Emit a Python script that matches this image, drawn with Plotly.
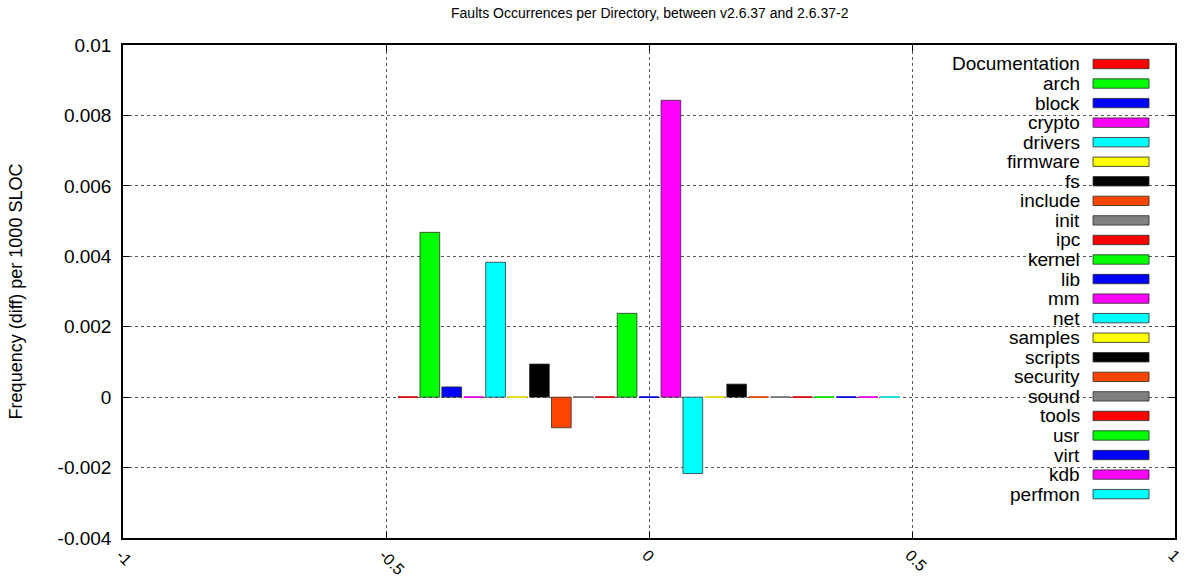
import plotly.graph_objects as go

# ---- data ----
directories = ["Documentation", "arch", "block", "crypto", "drivers", "firmware", "fs",
               "include", "init", "ipc", "kernel", "lib", "mm", "net", "samples",
               "scripts", "security", "sound", "tools", "usr", "virt", "kdb", "perfmon"]
values = [0.0, 0.00468, 0.00029, 0.0, 0.00383, 0.0, 0.00094,
          -0.00087, 0.0, 0.0, 0.00238, 0.0, 0.00843, -0.00217, 0.0,
          0.00037, 0.0, 0.0, 0.0, 0.0, 0.0, 0.0, 0.0]
y_tick_vals = [-0.004, -0.002, 0, 0.002, 0.004, 0.006, 0.008, 0.01]
y_tick_text = ["-0.004", "-0.002", "0", "0.002", "0.004", "0.006", "0.008", "0.01"]
x_tick_vals = [-1, -0.5, 0, 0.5, 1]
x_tick_text = ["-1", "-0.5", "0", "0.5", "1"]

palette = ["#ff0000", "#00ff00", "#0000ff", "#ff00ff", "#00ffff",
           "#ffff00", "#000000", "#ff4500", "#808080"]

FONT = "Liberation Sans, Arial, sans-serif"
N = len(directories)
slot = 1.0 / (N + 1)
bar_w = 0.9 * slot

fig = go.Figure()
for j, (name, v) in enumerate(zip(directories, values)):
    color = palette[j % len(palette)]
    center = -0.5 + (j + 1) * slot
    fig.add_trace(go.Bar(
        x=[center], y=[v], width=[bar_w], name=name,
        marker=dict(color=color, line=dict(color="rgba(40,40,40,0.75)", width=1)),
        showlegend=False,
    ))
    if v == 0:
        fig.add_trace(go.Scatter(
            x=[center - bar_w / 2, center + bar_w / 2], y=[v, v],
            mode="lines", line=dict(color=color, width=1.5),
            showlegend=False, hoverinfo="skip",
        ))

# custom legend (text right, swatch on the right like gnuplot)
shapes = []
annotations = []
leg_top = 0.9615
leg_step = 0.03966
for j, name in enumerate(directories):
    color = palette[j % len(palette)]
    yc = leg_top - j * leg_step
    annotations.append(dict(
        x=0.9116, y=yc, xref="paper", yref="paper", text=name,
        showarrow=False, xanchor="right", yanchor="middle",
        font=dict(family=FONT, size=19, color="black"),
    ))
    shapes.append(dict(
        type="rect", xref="paper", yref="paper",
        x0=0.9221, x1=0.9753, y0=yc - 0.0095, y1=yc + 0.0095,
        fillcolor=color, line=dict(color="rgba(40,40,40,0.8)", width=1),
    ))

fig.update_layout(
    width=1190, height=579,
    margin=dict(l=123, r=15, t=45, b=41),
    paper_bgcolor="white", plot_bgcolor="white",
    barmode="overlay",
    title=dict(text="Faults Occurrences per Directory, between v2.6.37 and 2.6.37-2",
               x=0.546, xanchor="center", y=0.978, yanchor="middle",
               font=dict(family=FONT, size=14, color="black")),
    font=dict(family=FONT, color="black"),
    shapes=shapes, annotations=annotations,
    showlegend=False,
)
fig.update_xaxes(
    range=[-1, 1], tickvals=x_tick_vals, ticktext=x_tick_text, tickangle=45,
    automargin=False, ticklabelshift=-2, ticklabelstandoff=0,
    showline=True, linecolor="black", linewidth=1.5, mirror="ticks",
    ticks="inside", ticklen=6, tickcolor="black",
    showgrid=True, gridcolor="#555", griddash="dot", gridwidth=1,
    zeroline=False, tickfont=dict(family=FONT, size=16, color="black"),
)
fig.update_yaxes(
    range=[-0.004, 0.01], tickvals=y_tick_vals, ticktext=y_tick_text,
    automargin=False, ticklabelstandoff=6,
    showline=True, linecolor="black", linewidth=1.5, mirror="ticks",
    ticks="inside", ticklen=6, tickcolor="black",
    showgrid=True, gridcolor="#555", griddash="dot", gridwidth=1,
    zeroline=False, tickfont=dict(family=FONT, size=19, color="black"),
    title=dict(text="Frequency (diff) per 1000 SLOC", standoff=30,
               font=dict(family=FONT, size=18, color="black")),
)

fig.write_html("out.html")
